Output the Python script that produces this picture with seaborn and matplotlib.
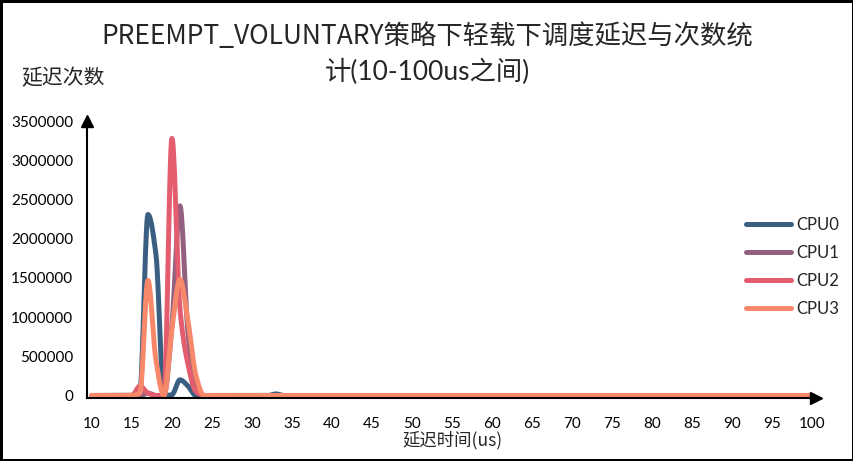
import numpy as np
import pandas as pd
import matplotlib
matplotlib.use('Agg')
import matplotlib.pyplot as plt
import seaborn as sns

# Latency buckets (us) and counts per CPU; buckets not listed are 0
latency_us = list(range(10, 101))
cpus = ['CPU0', 'CPU1', 'CPU2', 'CPU3']
cpu0_counts = {16: 60000, 17: 2310000, 18: 1800000, 19: 0, 20: 10000, 21: 200000, 22: 120000, 33: 20000}
cpu1_counts = {17: 30000, 18: 0, 19: 0, 20: 900000, 21: 2420000, 22: 800000, 23: 100000}
cpu2_counts = {16: 120000, 17: 30000, 18: 0, 19: 0, 20: 3280000, 21: 1100000, 22: 400000, 23: 50000}
cpu3_counts = {16: 30000, 17: 1470000, 18: 450000, 19: 0, 20: 850000, 21: 1480000, 22: 950000, 23: 250000}
colors = ['#3a5f82', '#94607f', '#e35d6f', '#f7896a']

title_line1 = 'PREEMPT_VOLUNTARY策略下轻载下调度延迟与次数统'
title_line2 = '计(10-100us之间)'
y_title = '延迟次数'
x_title = '延迟时间(us)'


def smooth(xs, ys, n=16):
    # monotone cubic curve through the points (no dips below zero between buckets)
    xs = np.asarray(xs, float)
    ys = np.asarray(ys, float)
    h = np.diff(xs)
    d = np.diff(ys) / h
    m = np.zeros_like(ys)
    for k in range(1, len(ys) - 1):
        if d[k - 1] * d[k] > 0:
            w1 = 2 * h[k] + h[k - 1]
            w2 = h[k] + 2 * h[k - 1]
            m[k] = (w1 + w2) / (w1 / d[k - 1] + w2 / d[k])
    t = np.linspace(0, 1, n, endpoint=False)
    out_x, out_y = [], []
    for k in range(len(xs) - 1):
        h00 = 2 * t ** 3 - 3 * t ** 2 + 1
        h10 = t ** 3 - 2 * t ** 2 + t
        h01 = -2 * t ** 3 + 3 * t ** 2
        h11 = t ** 3 - t ** 2
        out_x.extend(xs[k] + t * h[k])
        out_y.extend(h00 * ys[k] + h10 * h[k] * m[k] + h01 * ys[k + 1] + h11 * h[k] * m[k + 1])
    out_x.append(xs[-1])
    out_y.append(ys[-1])
    return out_x, out_y


frames = []
for name, counts in zip(cpus, [cpu0_counts, cpu1_counts, cpu2_counts, cpu3_counts]):
    values = [counts.get(x, 0) for x in latency_us]
    sx, sy = smooth(latency_us, values)
    frames.append(pd.DataFrame({'us': sx, 'count': sy, 'cpu': name}))
df = pd.concat(frames, ignore_index=True)

sns.set_theme(style='white')
plt.rcParams['font.family'] = ['Lato', 'Noto Sans CJK SC', 'DejaVu Sans']

fig = plt.figure(figsize=(8.54, 4.61), dpi=100, linewidth=2.5, edgecolor='black')
ax = fig.add_axes([0.102, 0.137, 0.853, 0.600])

sns.lineplot(data=df, x='us', y='count', hue='cpu', palette=colors, linewidth=3.6,
             estimator=None, sort=False, ax=ax)
for line in ax.lines:
    line.set_solid_capstyle('round')
    line.set_clip_on(False)

ax.set_xlim(9.4, 100.4)
ax.set_ylim(-30000, 3500000)
ax.set_xticks(range(10, 101, 5))
ax.set_yticks(range(0, 3500001, 500000))
ax.set_yticklabels([str(v) for v in range(0, 3500001, 500000)])
ax.tick_params(axis='both', length=0, labelsize=11, colors='black')
ax.tick_params(axis='y', pad=10)
ax.tick_params(axis='x', pad=14)
ax.set_xlabel('')
ax.set_ylabel('')

for side in ['top', 'right']:
    ax.spines[side].set_visible(False)
for side in ['left', 'bottom']:
    ax.spines[side].set_color('black')
    ax.spines[side].set_linewidth(1.5)
ax.plot(1, 0, '>', color='black', markersize=8, transform=ax.transAxes, clip_on=False)
ax.plot(0, 1, '^', color='black', markersize=8, transform=ax.transAxes, clip_on=False)

handles, labels = ax.get_legend_handles_labels()
leg = ax.legend(handles, labels, loc='center left', bbox_to_anchor=(738 / 854, 1 - 267 / 461),
                bbox_transform=fig.transFigure, frameon=False, fontsize=12,
                handlelength=2.7, handletextpad=0.3, labelspacing=0.72, borderpad=0)
for h in leg.get_lines():
    h.set_linewidth(3.6)
    h.set_solid_capstyle('round')

fig.text(0.5, 1 - 37 / 461, title_line1, ha='center', va='center', fontsize=19,
         family=['Noto Sans CJK SC', 'DejaVu Sans'])
fig.text(0.5, 1 - 72 / 461, title_line2, ha='center', va='center', fontsize=19,
         family=['Lato', 'Noto Sans CJK SC'])
fig.text(21 / 854, 1 - 78 / 461, y_title, ha='left', va='center', fontsize=15,
         family=['Noto Sans CJK SC'])
fig.text(453 / 854, 1 - 440 / 461, x_title, ha='center', va='center', fontsize=12.5,
         family=['Noto Sans CJK SC'])

fig.savefig('out.png', dpi=100)
